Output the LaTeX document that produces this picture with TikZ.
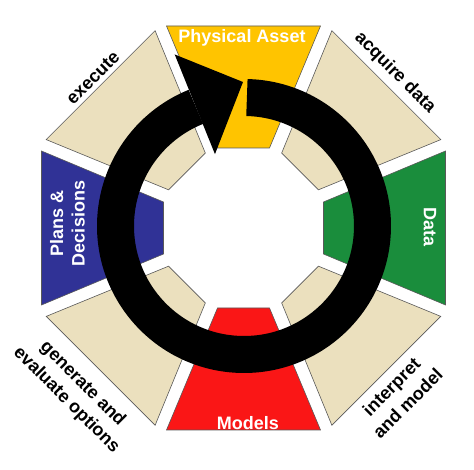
\documentclass[tikz,border=0pt]{standalone}
\usepackage{fontspec}
\setmainfont{Liberation Sans}
\usepackage{tikz}
\definecolor{assetyellow}{RGB}{255,196,0}
\definecolor{datagreen}{RGB}{26,141,60}
\definecolor{modelred}{RGB}{250,22,22}
\definecolor{planblue}{RGB}{48,50,150}
\definecolor{stepbeige}{RGB}{235,224,190}
\def\segment[#1](#2){\draw[seg,fill=#1,rotate=#2] (-26,80) -- (26,80) -- (77,202) -- (-77,202) -- cycle;}

\begin{document}
\begin{tikzpicture}[x=1pt,y=1pt,
		seg/.style={draw=black!65,line width=0.6pt},
		inlbl/.style={text=white,font=\bfseries\fontsize{18}{21.5}\selectfont,align=center},
		outlbl/.style={text=black,font=\bfseries\fontsize{18}{23}\selectfont,align=center}]
		\useasboundingbox (-243.5,-242) rectangle (230.5,228);
		%%%%% START %%%%%
		\segment[assetyellow](0)
		\segment[stepbeige](-45)
		\segment[datagreen](-90)
		\segment[stepbeige](-135)
		\segment[modelred](180)
		\segment[stepbeige](135)
		\segment[planblue](90)
		\segment[stepbeige](45)
		
		\begin{scope}[shift={(0.5,2)}]
		\draw[line width=37pt] (88.7:128.5) arc[start angle=88.7, end angle=-248, radius=128.5];
		\fill (112:185) -- (90.4:144) -- (112:77.5) -- cycle;
		\end{scope}
		
		\node[inlbl,anchor=base] (asset) at (-1.5,185) {Physical Asset};
		\node[inlbl,rotate=-90] (data) at (186.5,1) {Data};
		\node[inlbl] (models) at (4.5,-195) {Models};
		\node[inlbl,rotate=90] (plans) at (-176,4.5) {Plans \&\\Decisions};
		
		\node[outlbl,rotate=-45] (acquire) at (151.5,155) {acquire data};
		\node[outlbl,rotate=45] (interpret) at (156,-167) {interpret\\and model};
		\node[outlbl,rotate=-45] (generate) at (-169,-164) {generate and\\evaluate options};
		\node[outlbl,rotate=45] (execute) at (-150.5,150) {execute};
		%%%%% END %%%%%
\end{tikzpicture}
\end{document}
